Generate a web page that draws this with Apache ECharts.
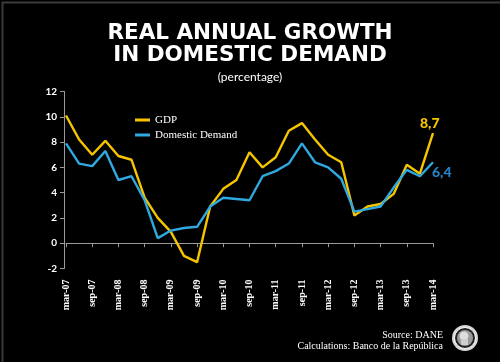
<!DOCTYPE html>
<html>
<head>
<meta charset="utf-8">
<script src="https://cdn.jsdelivr.net/npm/echarts@6/dist/echarts.min.js"></script>
<style>
html,body{margin:0;padding:0;background:#000;}
#chart{width:500px;height:362px;}
</style>
</head>
<body>
<div id="chart"></div>
<script>
var categories = ['mar-07','jun-07','sep-07','dec-07','mar-08','jun-08','sep-08','dec-08',
  'mar-09','jun-09','sep-09','dec-09','mar-10','jun-10','sep-10','dec-10',
  'mar-11','jun-11','sep-11','dec-11','mar-12','jun-12','sep-12','dec-12',
  'mar-13','jun-13','sep-13','dec-13','mar-14'];
var gdp = [10.1, 8.2, 7.0, 8.1, 6.9, 6.6, 3.6, 2.0, 0.9, -1.0, -1.5, 2.9, 4.3, 5.0, 7.2,
  6.0, 6.8, 8.9, 9.5, 8.2, 7.0, 6.4, 2.2, 2.9, 3.1, 3.9, 6.2, 5.5, 8.7];
var domesticDemand = [7.9, 6.3, 6.1, 7.3, 5.0, 5.3, 3.4, 0.4, 1.0, 1.2, 1.3, 2.9, 3.6, 3.5, 3.4,
  5.3, 5.7, 6.3, 7.9, 6.4, 6.0, 5.1, 2.5, 2.7, 2.9, 4.4, 5.8, 5.3, 6.4];
var yTicks = {min: -2, max: 12, interval: 2};

var GDP_COLOR = '#f6c500';
var DD_COLOR = '#2fa9e0';

function commaFmt(p) {
  var v = Array.isArray(p.value) ? p.value[p.value.length - 1] : p.value;
  return String(v).replace('.', ',');
}

var chart = echarts.init(document.getElementById('chart'), null, {renderer: 'canvas'});
var option = {
  backgroundColor: '#000',
  animation: false,
  title: [{
    text: 'REAL ANNUAL GROWTH\nIN DOMESTIC DEMAND',
    left: 'center', top: 17,
    textStyle: {color: '#fff', fontFamily: 'DejaVu Sans', fontWeight: 'bold', fontSize: 21.5, lineHeight: 22}
  }, {
    text: '(percentage)',
    left: 'center', top: 66,
    textStyle: {color: '#fff', fontFamily: 'Lato', fontWeight: 'normal', fontSize: 12}
  }],
  legend: {
    orient: 'vertical', left: 130, top: 109,
    itemWidth: 15, itemHeight: 3, itemGap: 3,
    icon: 'rect',
    textStyle: {color: '#fff', fontFamily: 'Liberation Serif', fontSize: 11, lineHeight: 12},
    data: ['GDP', 'Domestic Demand']
  },
  grid: {left: 66, right: 67, top: 91.5, bottom: 93.5, containLabel: false},
  xAxis: [{
    type: 'category', data: categories, boundaryGap: false,
    axisLine: {onZero: true, lineStyle: {color: '#9a9a9a', width: 1}},
    axisTick: {show: true, length: 4, interval: function (i) { return i % 2 === 0; }, lineStyle: {color: '#9a9a9a'}},
    axisLabel: {show: false},
    splitLine: {show: false}
  }, {
    type: 'category', data: categories, boundaryGap: false, position: 'bottom',
    axisLine: {show: false, onZero: false},
    axisTick: {show: false},
    axisLabel: {show: true, interval: 1, rotate: 90, margin: 11, color: '#fff',
      fontFamily: 'Liberation Serif', fontSize: 10, fontWeight: 'bold'},
    splitLine: {show: false}
  }],
  yAxis: {
    type: 'value', min: yTicks.min, max: yTicks.max, interval: yTicks.interval,
    offset: 2,
    axisLine: {show: true, lineStyle: {color: '#9a9a9a', width: 1}},
    axisTick: {show: true, length: 4, lineStyle: {color: '#9a9a9a'}},
    axisLabel: {color: '#fff', fontFamily: 'Lato', fontWeight: 'bold', fontSize: 10, margin: 7},
    splitLine: {show: false}
  },
  series: [{
    name: 'GDP', type: 'line', xAxisIndex: 0,
    data: gdp,
    showSymbol: false, symbol: 'none',
    lineStyle: {color: GDP_COLOR, width: 2.4},
    itemStyle: {color: GDP_COLOR},
    endLabel: {show: true, formatter: commaFmt, color: GDP_COLOR, distance: 5,
      fontFamily: 'Lato', fontWeight: 900, fontSize: 14, offset: [-18, -10]},
    z: 3
  }, {
    name: 'Domestic Demand', type: 'line', xAxisIndex: 0,
    data: domesticDemand,
    showSymbol: false, symbol: 'none',
    lineStyle: {color: DD_COLOR, width: 2.4},
    itemStyle: {color: DD_COLOR},
    endLabel: {show: true, formatter: commaFmt, color: '#2a82c6', distance: 5,
      fontFamily: 'Lato', fontWeight: 900, fontSize: 14, offset: [-6, 10]},
    z: 4
  }],
  graphic: [{
    type: 'rect', left: 0, top: 0, silent: true,
    shape: {x: 0, y: 0, width: 499, height: 361},
    style: {fill: 'none', stroke: '#3a3a3a', lineWidth: 2}
  }, {
    type: 'text', right: 57, top: 330,
    style: {text: 'Source: DANE', fill: '#fff', font: '10px "Liberation Serif"', textAlign: 'right'}
  }, {
    type: 'text', right: 57, top: 341,
    style: {text: 'Calculations: Banco de la República', fill: '#fff', font: '10px "Liberation Serif"', textAlign: 'right'}
  }, {
    type: 'group', left: 452, top: 325,
    children: [
      {type: 'circle', shape: {cx: 13, cy: 13, r: 13}, style: {fill: '#d8d8d8'}},
      {type: 'circle', shape: {cx: 13, cy: 13, r: 10.5}, style: {fill: '#222', stroke: '#fff', lineWidth: 1}},
      {type: 'circle', shape: {cx: 13, cy: 13, r: 8}, style: {fill: '#9a9a9a'}},
      {type: 'circle', shape: {cx: 12, cy: 11, r: 4.5}, style: {fill: '#ddd'}},
      {type: 'rect', shape: {x: 9, y: 14, width: 7, height: 6}, style: {fill: '#cfcfcf'}}
    ]
  }]
};
chart.setOption(option);
</script>
</body>
</html>
